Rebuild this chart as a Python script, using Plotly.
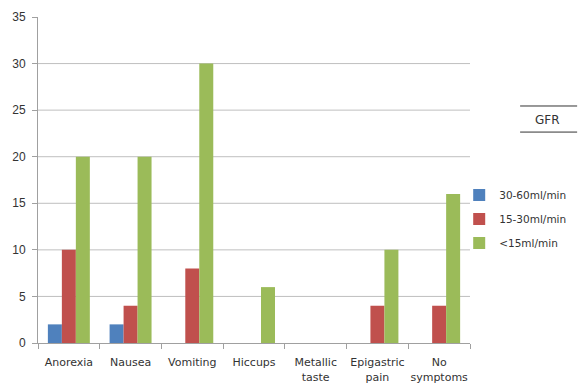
import plotly.graph_objects as go

categories = ["Anorexia", "Nausea", "Vomiting", "Hiccups", "Metallic<br>taste", "Epigastric<br>pain", "No<br>symptoms"]
series_names = ["30-60ml/min", "15-30ml/min", "<15ml/min"]
gfr_30_60 = [2, 2, 0, 0, 0, 0, 0]
gfr_15_30 = [10, 4, 8, 0, 0, 4, 4]
gfr_lt_15 = [20, 20, 30, 6, 0, 10, 16]
colors = ["#4F81BD", "#C0504D", "#9BBB59"]
y_ticks = [0, 5, 10, 15, 20, 25, 30, 35]

fig = go.Figure()
for name, vals, col in zip(series_names, [gfr_30_60, gfr_15_30, gfr_lt_15], colors):
    fig.add_trace(go.Bar(x=categories, y=vals, name=name, marker_color=col,
                         marker_line_width=0, legendgroup=name))

fig.update_layout(
    width=578, height=389,
    margin=dict(l=38, r=108, t=17, b=46, autoexpand=False),
    paper_bgcolor="white", plot_bgcolor="white",
    font=dict(family="DejaVu Sans, Liberation Sans, sans-serif", size=11, color="#333333"),
    barmode="group", bargap=0.32, bargroupgap=0,
    showlegend=True,
    legend=dict(x=0.975, xanchor="left", y=0.38, yanchor="middle",
                font=dict(size=10.5), tracegroupgap=5, itemwidth=30,
                bgcolor="rgba(0,0,0,0)"),
    xaxis=dict(showline=True, linecolor="#a0a0a0", ticks="outside", tickson="boundaries",
               ticklen=5, tickcolor="#a0a0a0", showgrid=False, tickangle=0,
               ticklabelstandoff=9, tickfont=dict(size=11), automargin=False),
    yaxis=dict(range=[0, 35], tickvals=y_ticks, showgrid=False,
               showline=True, linecolor="#a0a0a0", ticks="outside", ticklen=5,
               tickcolor="#a0a0a0", zeroline=False, ticklabelstandoff=4,
               tickfont=dict(family="Liberation Sans, Arial, sans-serif", size=12),
               automargin=False),
)

for gv in y_ticks[1:-1]:
    fig.add_shape(type="line", xref="paper", yref="y", x0=0, x1=1, y0=gv, y1=gv,
                  line=dict(color="#bfbfbf", width=1), layer="below")

fig.add_shape(type="line", xref="paper", yref="paper", x0=1.116, x1=1.248, y0=0.727, y1=0.727,
              line=dict(color="#333333", width=1))
fig.add_shape(type="line", xref="paper", yref="paper", x0=1.116, x1=1.248, y0=0.647, y1=0.647,
              line=dict(color="#333333", width=1))
fig.add_annotation(text="GFR", xref="paper", yref="paper", x=1.18, y=0.685,
                   showarrow=False, font=dict(size=12), xanchor="center", yanchor="middle")

fig.write_html("out.html")
